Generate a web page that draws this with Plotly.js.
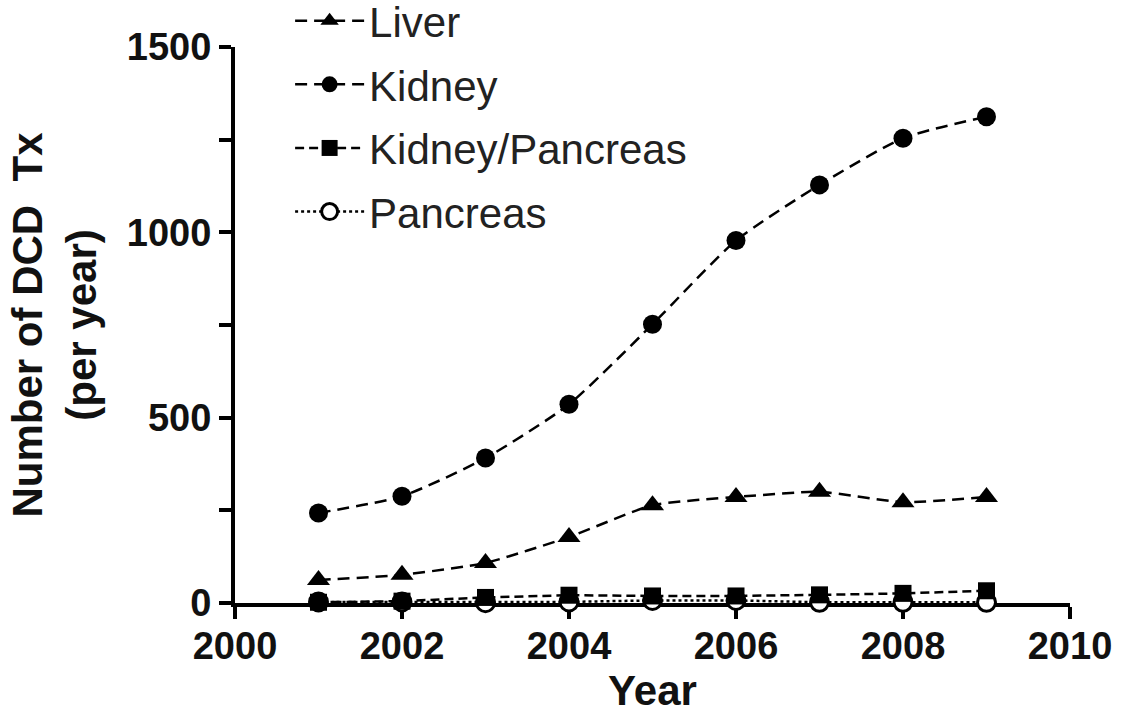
<!DOCTYPE html>
<html>
<head>
<meta charset="utf-8">
<script src="https://cdn.plot.ly/plotly-3.0.1.min.js"></script>
<style>html,body{margin:0;padding:0;background:#fff;}#chart{width:1122px;height:721px;}</style>
</head>
<body>
<div id="chart"></div>
<script>
const years = [2001, 2002, 2003, 2004, 2005, 2006, 2007, 2008, 2009];
const liver = [62, 76, 108, 178, 264, 286, 300, 272, 286];
const kidney = [243, 288, 391, 536, 752, 978, 1128, 1254, 1312];
const kidneyPancreas = [2, 5, 15, 21, 19, 19, 22, 26, 33];
const pancreas = [3, 3, 1, 3, 7, 7, 2, 2, 2];
const seriesNames = ['Liver', 'Kidney', 'Kidney/Pancreas', 'Pancreas'];
const xTicks = [2000, 2002, 2004, 2006, 2008, 2010];
const yTicks = [0, 500, 1000, 1500];

const FONT = 'Arial, "Liberation Sans", Helvetica, sans-serif';

const traces = [
  {x: years, y: pancreas, name: seriesNames[3], legendgroup: 'd', legendrank: 4,
   mode: 'lines+markers', line: {color: '#000', width: 2.5, dash: 'dot'},
   marker: {symbol: 'circle', size: 18, color: '#fff', line: {color: '#000', width: 3}}},
  {x: years, y: kidneyPancreas, name: seriesNames[2], legendgroup: 'c', legendrank: 3,
   mode: 'lines+markers', line: {color: '#000', width: 2.5, dash: '9px,5px'},
   marker: {symbol: 'square', size: 17, color: '#000'}},
  {x: years, y: liver, name: seriesNames[0], legendgroup: 'a', legendrank: 1,
   mode: 'lines+markers', line: {color: '#000', width: 2.5, dash: '12px,7px', shape: 'spline', smoothing: 0.5},
   marker: {symbol: 'triangle-up', size: 20, color: '#000'}},
  {x: years, y: kidney, name: seriesNames[1], legendgroup: 'b', legendrank: 2,
   mode: 'lines+markers', line: {color: '#000', width: 2.5, dash: '12px,7px', shape: 'spline', smoothing: 0.6},
   marker: {symbol: 'circle', size: 19, color: '#000'}}
];
traces.forEach(t => { t.cliponaxis = false; });

const layout = {
  width: 1122, height: 721,
  paper_bgcolor: '#fff', plot_bgcolor: '#fff',
  margin: {l: 235, r: 52, t: 47, b: 118, autoexpand: false},
  font: {family: FONT, color: '#000'},
  showlegend: true,
  legend: {x: 0.066, y: 1.108, xanchor: 'left', yanchor: 'top',
           font: {family: FONT, size: 42, color: '#222'},
           bgcolor: 'rgba(0,0,0,0)', traceorder: 'grouped', tracegroupgap: 6, itemwidth: 69},
  xaxis: {range: [2000, 2010], tickvals: xTicks, ticktext: xTicks.map(String),
          showgrid: false, zeroline: false, showline: true, linecolor: '#000', linewidth: 4,
          ticks: 'outside', ticklen: 12, tickwidth: 4, tickcolor: '#000',
          ticklabelstandoff: -6,
          tickfont: {family: FONT, size: 38, weight: 'bold', color: '#111'},
          layer: 'below traces',
          title: {text: 'Year', font: {family: FONT, size: 42, weight: 'bold', color: '#111'}, standoff: 8}},
  yaxis: {range: [0, 1500], tickvals: yTicks, ticktext: yTicks.map(String),
          showgrid: false, zeroline: false, showline: true, linecolor: '#000', linewidth: 4,
          ticks: 'outside', ticklen: 12, tickwidth: 4, tickcolor: '#000',
          minor: {dtick: 250, tick0: 0, ticks: 'outside', ticklen: 12, tickwidth: 4, tickcolor: '#000', showgrid: false},
          tickfont: {family: FONT, size: 38, weight: 'bold', color: '#111'},
          layer: 'below traces',
          title: {text: 'Number of DCD  Tx<br>(per year)', font: {family: FONT, size: 42, weight: 'bold', color: '#111'}, standoff: 18}}
};

Plotly.newPlot('chart', traces, layout, {displayModeBar: false, staticPlot: true});
</script>
</body>
</html>
